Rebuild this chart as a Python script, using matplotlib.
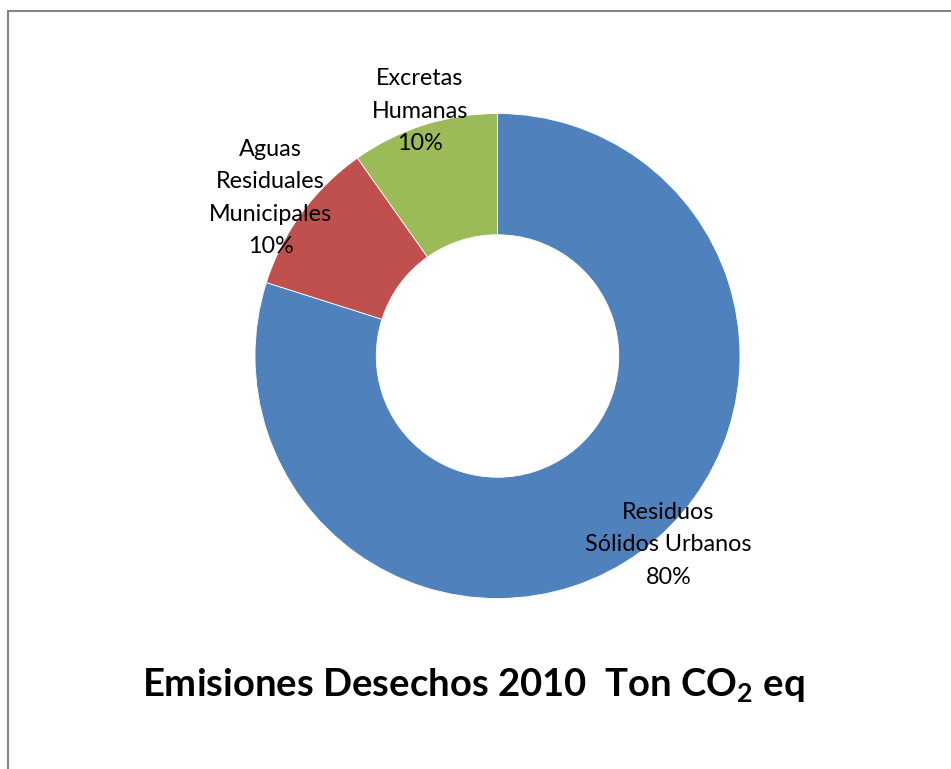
import numpy as np
import matplotlib.pyplot as plt
from matplotlib.patches import Rectangle

plt.rcParams['font.family'] = ['Lato', 'DejaVu Sans']
plt.rcParams['mathtext.fontset'] = 'custom'
plt.rcParams['mathtext.rm'] = 'Lato'
plt.rcParams['mathtext.bf'] = 'Lato:bold'

# emisiones por fuente (% del total)
fuentes = ['Residuos\nSólidos Urbanos', 'Aguas\nResiduales\nMunicipales', 'Excretas\nHumanas']
valores = [79.9, 10.3, 9.8]
colores = ['#4F81BD', '#C0504D', '#9BBB59']
titulo = r'Emisiones Desechos 2010  Ton CO$_{\mathbf{2}}$ eq'

W, H = 951, 769
cx, cy, R = 497.5, 356, 242.5   # centro y radio en pixeles

fig = plt.figure(figsize=(W / 100, H / 100), dpi=100)
ax = fig.add_axes([0, 0, 1, 1])

wedges, _ = ax.pie(valores, colors=colores, startangle=90, counterclock=False,
                   radius=1, wedgeprops=dict(width=0.5, edgecolor='white', linewidth=0.6))

# etiquetas fuera del anillo: distancia y giro respecto al centro del sector
dist = [1.05, 1.14, 1.06]
giro = [6.0, 1.3, 0.0]
total = sum(valores)
for w, nombre, v, d, g in zip(wedges, fuentes, valores, dist, giro):
    ang = np.deg2rad((w.theta1 + w.theta2) / 2 + g)
    ax.text(d * np.cos(ang), d * np.sin(ang), f'{nombre}\n{v / total * 100:.0f}%',
            ha='center', va='center', fontsize=16.8, linespacing=1.68, color='black')

ax.set_xlim(-cx / R, (W - cx) / R)
ax.set_ylim(-(H - cy) / R, cy / R)
ax.set_aspect('auto')
ax.axis('off')

fig.text(473 / W, 1 - 686 / H, titulo, ha='center', va='center',
         fontsize=27.5, fontweight='bold')

# marco gris del grafico
fig.add_artist(Rectangle((8.2 / W, -0.1), 1.2, 1.1 - 10.8 / H, transform=fig.transFigure,
                         fill=False, edgecolor='#868686', linewidth=1.5))

plt.savefig('out.png', dpi=100)
